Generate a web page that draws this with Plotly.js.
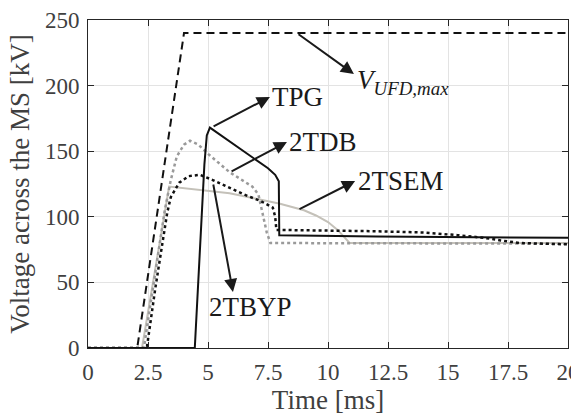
<!DOCTYPE html>
<html>
<head>
<meta charset="utf-8">
<script src="https://cdn.plot.ly/plotly-3.0.1.min.js"></script>
<style>
html,body{margin:0;padding:0;background:#fff;}
#chart{width:571px;height:418px;}
.preload{position:absolute;left:2px;top:404px;font-family:'Liberation Serif';font-size:8px;visibility:hidden;}
</style>
</head>
<body>
<span class="preload">Voltage 0123456789 TPG 2TDB <i>V UFD,max</i></span>
<div id="chart"></div>
<script>
// Time axis [ms] and voltages [kV]
const tUFD = [0, 2.05, 4.0, 20];
const vUFD = [0, 0, 240, 240];

const tTPG = [0, 4.45, 4.75, 4.85, 4.95, 5.08, 7.5, 7.8, 7.95, 7.97, 12, 20];
const vTPG = [0, 0, 105, 140, 162, 168, 137, 132, 127, 86, 85, 84];

const tTDB = [0, 2.33, 2.6, 2.9, 3.2, 3.45, 3.7, 4.0, 4.25, 4.6, 5.0, 5.9, 6.5, 6.85, 7.1, 7.3, 7.45, 7.6, 20];
const vTDB = [0, 0, 33, 69, 105, 128, 146, 155, 158, 155, 148, 134, 127, 123, 117, 100, 88, 80, 79.5];

const tTBYP = [0, 2.45, 2.8, 3.1, 3.3, 3.45, 3.8, 4.2, 4.67, 5.2, 5.9, 6.5, 7.2, 7.7, 7.8, 7.85, 12, 14, 15.4, 16.5, 17.2, 18, 20];
const vTBYP = [0, 0, 45, 80, 103, 115, 126, 131, 132, 128, 122, 117, 112, 107, 100, 90, 89, 88, 86, 84, 82, 80, 79];

const tTSEM = [0, 2.25, 3.38, 5.9, 8.0, 9.0, 9.5, 10.0, 10.4, 10.9, 20];
const vTSEM = [0, 0, 123, 118, 110, 105, 101, 96, 90, 80, 80];

const xTicks = [0, 2.5, 5, 7.5, 10, 12.5, 15, 17.5, 20];
const xTickText = ['0', '2.5', '5', '7.5', '10', '12.5', '15', '17.5', '20'];
const yTicks = [0, 50, 100, 150, 200, 250];

// Label annotations: [label, tail x, tail y, head x, head y, text x, text y, xanchor]
const labels = [
  ['<i>V</i><sub><i>UFD,max</i></sub>', 8.71, 240, 11.08, 208.8, 11.12, 203, 'left'],
  ['TPG', 5.17, 168.4, 7.58, 191.3, 7.6, 191.3, 'left'],
  ['2TDB', 5.92, 134.1, 8.29, 157.0, 8.31, 157.0, 'left'],
  ['2TSEM', 8.75, 105.2, 11.13, 127.3, 11.15, 127.3, 'left'],
  ['2TBYP', 5.21, 125.8, 6.04, 42.7, 6.79, 31, 'center']
];

const FONT = 'Liberation Serif';

const traces = [
  {x: tTSEM, y: vTSEM, mode: 'lines', line: {color: '#c4c1b9', width: 2}, name: '2TSEM'},
  {x: tTDB, y: vTDB, mode: 'lines', line: {color: '#9a9a9a', width: 2.5, dash: 'dot'}, name: '2TDB'},
  {x: tTBYP, y: vTBYP, mode: 'lines', line: {color: '#111111', width: 2.5, dash: 'dot'}, name: '2TBYP'},
  {x: tUFD, y: vUFD, mode: 'lines', line: {color: '#111111', width: 2, dash: '8px,5px'}, name: 'V_UFD,max'},
  {x: tTPG, y: vTPG, mode: 'lines', line: {color: '#111111', width: 2}, name: 'TPG'}
];

const annotations = [];
labels.forEach(l => {
  annotations.push({
    x: l[3], y: l[4], ax: l[1], ay: l[2], xref: 'x', yref: 'y', axref: 'x', ayref: 'y',
    text: '', showarrow: true, arrowhead: 2, arrowsize: 1.3, arrowwidth: 2, arrowcolor: '#1a1a1a', standoff: 0, startstandoff: 0
  });
  annotations.push({
    x: l[5], y: l[6], xref: 'x', yref: 'y', text: l[0], showarrow: false,
    xanchor: l[7], yanchor: 'middle',
    font: {family: FONT, size: 27, color: '#1a1a1a'}
  });
});

function axisBase() {
  return {
    showline: true, linecolor: '#262626', linewidth: 1, mirror: 'ticks',
    ticks: 'inside', ticklen: 6, tickcolor: '#262626', tickwidth: 1,
    showgrid: true, gridcolor: '#e3e3e3', gridwidth: 1, zeroline: false,
    ticklabelstandoff: 3,
    tickfont: {family: FONT, size: 23, color: '#404040'}
  };
}

const xaxis = axisBase();
xaxis.range = [0, 20];
xaxis.tickvals = xTicks;
xaxis.ticktext = xTickText;
xaxis.ticklabeloverflow = 'allow';
xaxis.title = {text: 'Time [ms]', standoff: 6, font: {family: FONT, size: 27, color: '#404040'}};

const yaxis = axisBase();
yaxis.range = [0, 250];
yaxis.tickvals = yTicks;
yaxis.title = {text: 'Voltage across the MS [kV]', standoff: 7, font: {family: FONT, size: 27, color: '#404040'}};

const layout = {
  width: 571, height: 418,
  margin: {l: 88, r: 3, t: 20, b: 70},
  paper_bgcolor: '#ffffff', plot_bgcolor: '#ffffff',
  font: {family: FONT, color: '#404040'},
  showlegend: false,
  xaxis: xaxis,
  yaxis: yaxis,
  annotations: annotations
};

const config = {staticPlot: true, displayModeBar: false};

function draw() {
  return Plotly.newPlot('chart', traces, layout, config);
}

let ready = Promise.resolve();
if (document.fonts && document.fonts.load) {
  ready = Promise.all([
    document.fonts.load('23px "Liberation Serif"', '0123456789.'),
    document.fonts.load('27px "Liberation Serif"', 'TPG2DBSEMY'),
    document.fonts.load('italic 27px "Liberation Serif"', 'VUFD,max')
  ]).catch(function () {});
}
ready.then(draw, draw)
  .then(function () { return document.fonts ? document.fonts.ready : null; })
  .then(function () { return draw(); })
  .catch(function () {});
</script>
</body>
</html>
